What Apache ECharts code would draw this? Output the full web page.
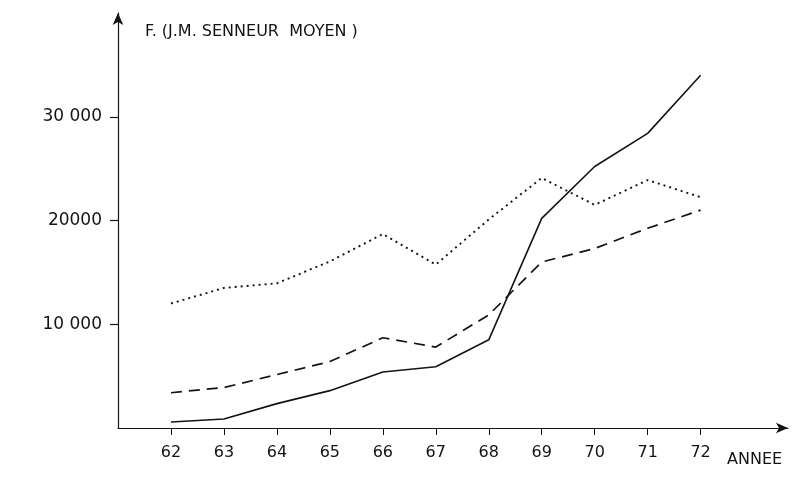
<!DOCTYPE html>
<html>
<head>
<meta charset="utf-8">
<script src="https://cdn.jsdelivr.net/npm/echarts@6/dist/echarts.min.js"></script>
<style>
  html, body { margin: 0; background: #fff; }
  #chart { width: 810px; height: 477px; }
</style>
</head>
<body>
<div id="chart"></div>
<script>
// years (19xx) on the x axis
var years = [62, 63, 64, 65, 66, 67, 68, 69, 70, 71, 72];
// values, in francs
var solid_vals = [580, 870, 2350, 3600, 5400, 5900, 8500, 20200, 25200, 28400, 34000];
var dashed_vals = [3400, 3900, 5150, 6400, 8700, 7800, 10900, 16000, 17300, 19250, 21000];
var dotted_vals = [12000, 13500, 13950, 16050, 18700, 15750, 20100, 24100, 21500, 23900, 22250];
var y_ticks = [10000, 20000, 30000];
var y_tick_labels = ['10 000', '20000', '30 000'];

var ink = '#141414';
var font = 'DejaVu Sans';

function pairs(vals) {
  return years.map(function (y, i) { return [y, vals[i]]; });
}

function lineSeries(name, vals, type, width) {
  return {
    name: name,
    type: 'line',
    data: pairs(vals),
    symbol: 'none',
    lineStyle: { color: ink, width: width, type: type },
    silent: true
  };
}

var chart = echarts.init(document.getElementById('chart'));
chart.setOption({
  backgroundColor: '#fff',
  animation: false,
  grid: { left: 118, right: 22, top: 13, bottom: 49 },
  xAxis: {
    type: 'value',
    min: 61,
    max: 73.65,
    interval: 1,
    splitLine: { show: false },
    axisLine: {
      lineStyle: { color: ink, width: 1.2 },
      symbol: ['none', 'arrow'],
      symbolSize: [8, 12]
    },
    axisTick: { customValues: years, length: 7, lineStyle: { color: ink } },
    axisLabel: {
      customValues: years,
      margin: 17,
      color: ink,
      fontFamily: font,
      fontSize: 16
    }
  },
  yAxis: {
    type: 'value',
    min: 0,
    max: 40000,
    interval: 10000,
    splitLine: { show: false },
    axisLine: {
      lineStyle: { color: ink, width: 1.2 },
      symbol: ['none', 'arrow'],
      symbolSize: [8, 12]
    },
    axisTick: { customValues: y_ticks, length: 8, lineStyle: { color: ink, width: 1.2 } },
    axisLabel: {
      customValues: y_ticks,
      margin: 16,
      color: ink,
      fontFamily: font,
      fontSize: 17,
      formatter: function (v) {
        var i = y_ticks.indexOf(v);
        return i >= 0 ? y_tick_labels[i] : '';
      }
    }
  },
  graphic: [
    {
      type: 'text',
      left: 145,
      top: 24,
      style: { text: 'F. (J.M. SENNEUR  MOYEN )', fill: ink, font: '16px "DejaVu Sans"' }
    },
    {
      type: 'text',
      left: 727,
      top: 452,
      style: { text: 'ANNEE', fill: ink, font: '16px "DejaVu Sans"' }
    }
  ],
  series: [
    lineSeries('solide', solid_vals, 'solid', 1.6),
    lineSeries('tirets', dashed_vals, [11, 7], 1.7),
    lineSeries('points', dotted_vals, [2, 4], 1.9)
  ]
});
</script>
</body>
</html>
